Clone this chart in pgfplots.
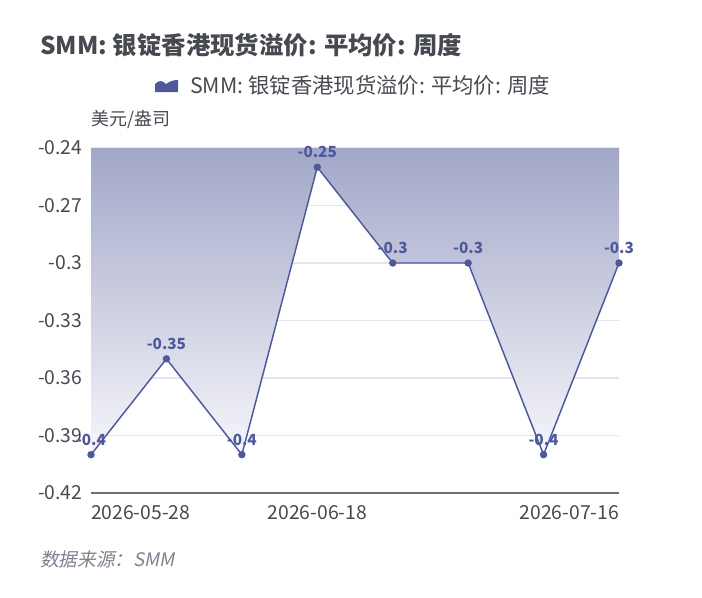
\documentclass[border=0pt]{standalone}
\usepackage{fontspec}
\usepackage{pgfplots}
\pgfplotsset{compat=1.18}
\setmainfont{Noto Sans CJK SC}
\newfontfamily\slantfont[FakeSlant=0.2]{Noto Sans CJK SC}
\definecolor{linec}{RGB}{78,89,155}
\definecolor{fillc}{RGB}{162,167,200}
\definecolor{fillb}{RGB}{246,246,250}
\definecolor{gridc}{RGB}{224,230,241}
\definecolor{axisc}{RGB}{110,112,121}
\definecolor{textc}{RGB}{70,73,80}
\definecolor{srcc}{RGB}{125,130,142}
\begin{document}
\begin{tikzpicture}
\useasboundingbox (0,0) rectangle (526.5pt,-447.75pt);
\begin{scope}[x=0.75pt,y=-0.75pt]
\node[anchor=base west, inner sep=0, text=textc, font=\bfseries\fontsize{18.3}{21}\selectfont] at (40,54) {SMM: 银锭香港现货溢价: 平均价: 周度};
\fill[linec] (155,92) -- (155,84) .. controls (159,80) and (162,80) .. (166,84) .. controls (170,81) and (174,80) .. (178,80) -- (178,92) -- cycle;
\node[anchor=base west, inner sep=0, text=textc, font=\fontsize{16}{18}\selectfont] at (190,93) {SMM: 银锭香港现货溢价: 平均价: 周度};
\node[anchor=base west, inner sep=0, text=textc, font=\fontsize{13.5}{16}\selectfont] at (91,125) {美元/盎司};
\node[anchor=base west, inner sep=0, text=srcc, font=\slantfont\fontsize{14}{16}\selectfont] at (40,566) {数据来源：SMM};
\end{scope}
\begin{axis}[
  at={(68.25pt,-369.75pt)}, anchor=south west,
  scale only axis, width=396pt, height=258.75pt,
  xmin=0, xmax=7, ymin=-0.42, ymax=-0.24,
  clip=false,
  axis x line*=bottom, axis y line*=left,
  x axis line style={axisc, line width=1.1pt, -},
  y axis line style={draw=none},
  major tick length=0pt,
  xtick={0,3,7},
  xticklabels={\rlap{2026-05-28},2026-06-18,\llap{2026-07-16}},
  ytick={-0.42,-0.39,-0.36,-0.33,-0.3,-0.27,-0.24},
  yticklabels={{-0.42},{-0.39},{-0.36},{-0.33},{-0.3},{-0.27},{-0.24}},
  ymajorgrids,
  grid style={gridc, line width=0.8pt},
  tick label style={font=\fontsize{14.5}{16}\selectfont, text=textc},
  xticklabel style={yshift=-6pt},
  yticklabel style={xshift=-3pt},
]
\addplot[draw=none, top color=fillc, bottom color=fillb, forget plot] coordinates {
(0,-0.4) (1,-0.35) (2,-0.4) (3,-0.25) (4,-0.3) (5,-0.3) (6,-0.4) (7,-0.3) (7,-0.24) (0,-0.24)} -- cycle;
\addplot[linec, line width=1.1pt, mark=*, mark size=2.2pt,
  point meta=explicit symbolic,
  nodes near coords,
  every node near coord/.style={anchor=south, inner sep=0pt, yshift=6.5pt, text=linec, font=\bfseries\fontsize{11.5}{13}\selectfont}]
coordinates {
(0,-0.4) [-0.4]
(1,-0.35) [-0.35]
(2,-0.4) [-0.4]
(3,-0.25) [-0.25]
(4,-0.3) [-0.3]
(5,-0.3) [-0.3]
(6,-0.4) [-0.4]
(7,-0.3) [-0.3]
};
\end{axis}
\end{tikzpicture}
\end{document}
